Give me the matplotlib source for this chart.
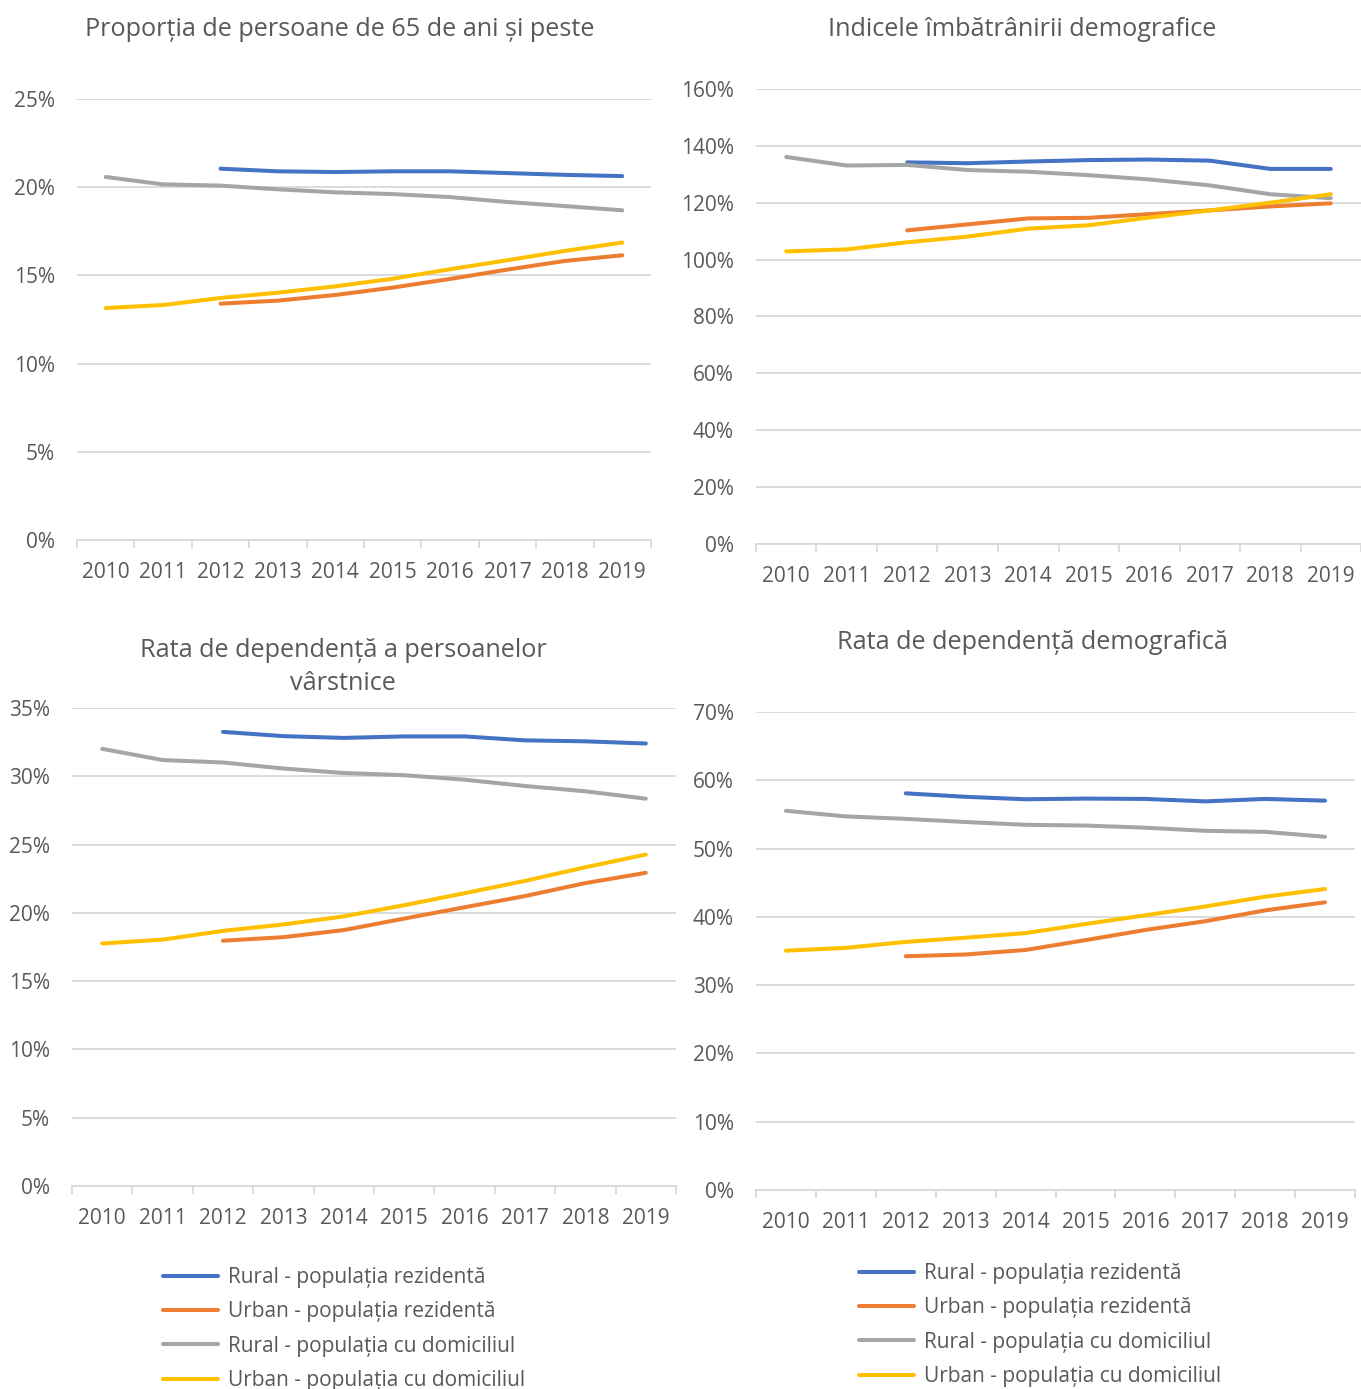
import numpy as np
import matplotlib
matplotlib.use("Agg")
import matplotlib.pyplot as plt
from matplotlib.ticker import FuncFormatter, FixedLocator

plt.rcParams['font.family'] = ['Open Sans', 'DejaVu Sans']

# ------ data
years = ['2010', '2011', '2012', '2013', '2014', '2015', '2016', '2017', '2018', '2019']
labels = ['Rural - populația rezidentă', 'Urban - populația rezidentă',
          'Rural - populația cu domiciliul', 'Urban - populația cu domiciliul']
colors = ['#4472C4', '#ED7D31', '#A5A5A5', '#FFC000']

nan = np.nan
# proportia 65+
p65_rural_rez = [nan, nan, 21.05, 20.9, 20.86, 20.9, 20.9, 20.8, 20.7, 20.63]
p65_urban_rez = [nan, nan, 13.4, 13.57, 13.89, 14.31, 14.8, 15.33, 15.82, 16.14]
p65_rural_dom = [20.58, 20.16, 20.09, 19.88, 19.71, 19.61, 19.44, 19.16, 18.93, 18.69]
p65_urban_dom = [13.15, 13.32, 13.72, 14.02, 14.38, 14.81, 15.35, 15.86, 16.39, 16.86]

# indicele imbatranirii
ii_rural_rez = [nan, nan, 134.2, 133.9, 134.5, 135.0, 135.2, 134.8, 131.9, 131.9]
ii_urban_rez = [nan, nan, 110.3, 112.4, 114.5, 114.7, 116.0, 117.3, 118.7, 119.8]
ii_rural_dom = [136.1, 133.1, 133.3, 131.5, 130.9, 129.7, 128.2, 126.1, 123.0, 121.6]
ii_urban_dom = [102.9, 103.6, 106.1, 108.1, 110.9, 112.1, 114.8, 117.3, 120.0, 123.0]

# rata de dependenta a varstnicilor
rdv_rural_rez = [nan, nan, 33.25, 32.94, 32.81, 32.92, 32.92, 32.63, 32.56, 32.4]
rdv_urban_rez = [nan, nan, 17.96, 18.22, 18.74, 19.58, 20.41, 21.23, 22.18, 22.93]
rdv_rural_dom = [32.01, 31.19, 31.01, 30.57, 30.24, 30.08, 29.75, 29.29, 28.9, 28.36]
rdv_urban_dom = [17.76, 18.04, 18.68, 19.15, 19.74, 20.56, 21.44, 22.34, 23.34, 24.27]

# rata de dependenta demografica
rdd_rural_rez = [nan, nan, 58.09, 57.58, 57.22, 57.32, 57.27, 56.91, 57.27, 57.02]
rdd_urban_rez = [nan, nan, 34.23, 34.49, 35.15, 36.59, 38.08, 39.36, 40.95, 42.13]
rdd_rural_dom = [55.53, 54.71, 54.35, 53.89, 53.48, 53.37, 53.06, 52.6, 52.45, 51.73]
rdd_urban_dom = [35.05, 35.46, 36.33, 36.95, 37.62, 38.95, 40.23, 41.52, 42.95, 44.08]

W, H = 1361, 1389
fig = plt.figure(figsize=(W / 100, H / 100), dpi=100)

def px_axes(x0, y0, x1, y1):
    # pixel box (top-left origin) -> figure fraction
    return fig.add_axes([x0 / W, 1 - y1 / H, (x1 - x0) / W, (y1 - y0) / H])

txt = '#595959'

def make_chart(box, series, ymax, ystep, title, title_xy):
    ax = px_axes(*box)
    x = np.arange(len(years))
    for s, c, l in zip(series, colors, labels):
        ax.plot(x, s, color=c, lw=2.9, solid_capstyle='round', label=l)
    ax.set_xlim(-0.5, 9.5)
    ax.set_ylim(0, ymax)
    ax.set_yticks(np.arange(0, ymax + 0.01, ystep))
    ax.yaxis.set_major_formatter(FuncFormatter(lambda v, p: '%d%%' % round(v)))
    ax.grid(axis='y', color='#d9d9d9', lw=1.3)
    ax.set_axisbelow(True)
    for sp in ['top', 'right', 'left']:
        ax.spines[sp].set_visible(False)
    ax.spines['bottom'].set_color('#d9d9d9')
    ax.spines['bottom'].set_linewidth(1.3)
    ax.set_xticks(x)
    ax.set_xticklabels(years)
    ax.xaxis.set_minor_locator(FixedLocator(np.arange(-0.5, 10, 1)))
    ax.tick_params(axis='x', which='major', length=0, pad=16, labelsize=15, labelcolor=txt)
    ax.tick_params(axis='x', which='minor', length=6, width=1.3, color='#d9d9d9')
    ax.tick_params(axis='y', length=0, pad=16, labelsize=15, labelcolor=txt)
    fig.text(title_xy[0] / W, 1 - title_xy[1] / H, title, ha='center', va='center',
             fontsize=18.2, color=txt, linespacing=1.45)
    return ax

make_chart((77, 99, 651, 540),
           [p65_rural_rez, p65_urban_rez, p65_rural_dom, p65_urban_dom],
           25, 5, 'Proporția de persoane de 65 de ani și peste', (340, 30))
make_chart((756, 89, 1361, 544),
           [ii_rural_rez, ii_urban_rez, ii_rural_dom, ii_urban_dom],
           160, 20, 'Indicele îmbătrânirii demografice', (1022, 30))
ax3 = make_chart((72, 708, 676, 1186),
                 [rdv_rural_rez, rdv_urban_rez, rdv_rural_dom, rdv_urban_dom],
                 35, 5, 'Rata de dependență a persoanelor\nvârstnice', (343, 667))
ax4 = make_chart((756, 712, 1355, 1190),
                 [rdd_rural_rez, rdd_urban_rez, rdd_rural_dom, rdd_urban_dom],
                 70, 10, 'Rata de dependență demografică', (1032, 642))

# legends below bottom charts
for ax, (lx, ly) in [(ax3, (163, 1267)), (ax4, (859, 1263))]:
    h, l = ax.get_legend_handles_labels()
    fig.legend(h, l, loc='upper left', bbox_to_anchor=(lx / W, 1 - ly / H),
               frameon=False, fontsize=15, labelcolor=txt, handlelength=2.65,
               handletextpad=0.45, labelspacing=0.64, borderaxespad=0, borderpad=0)

fig.savefig('out.png', dpi=100, facecolor='white')
